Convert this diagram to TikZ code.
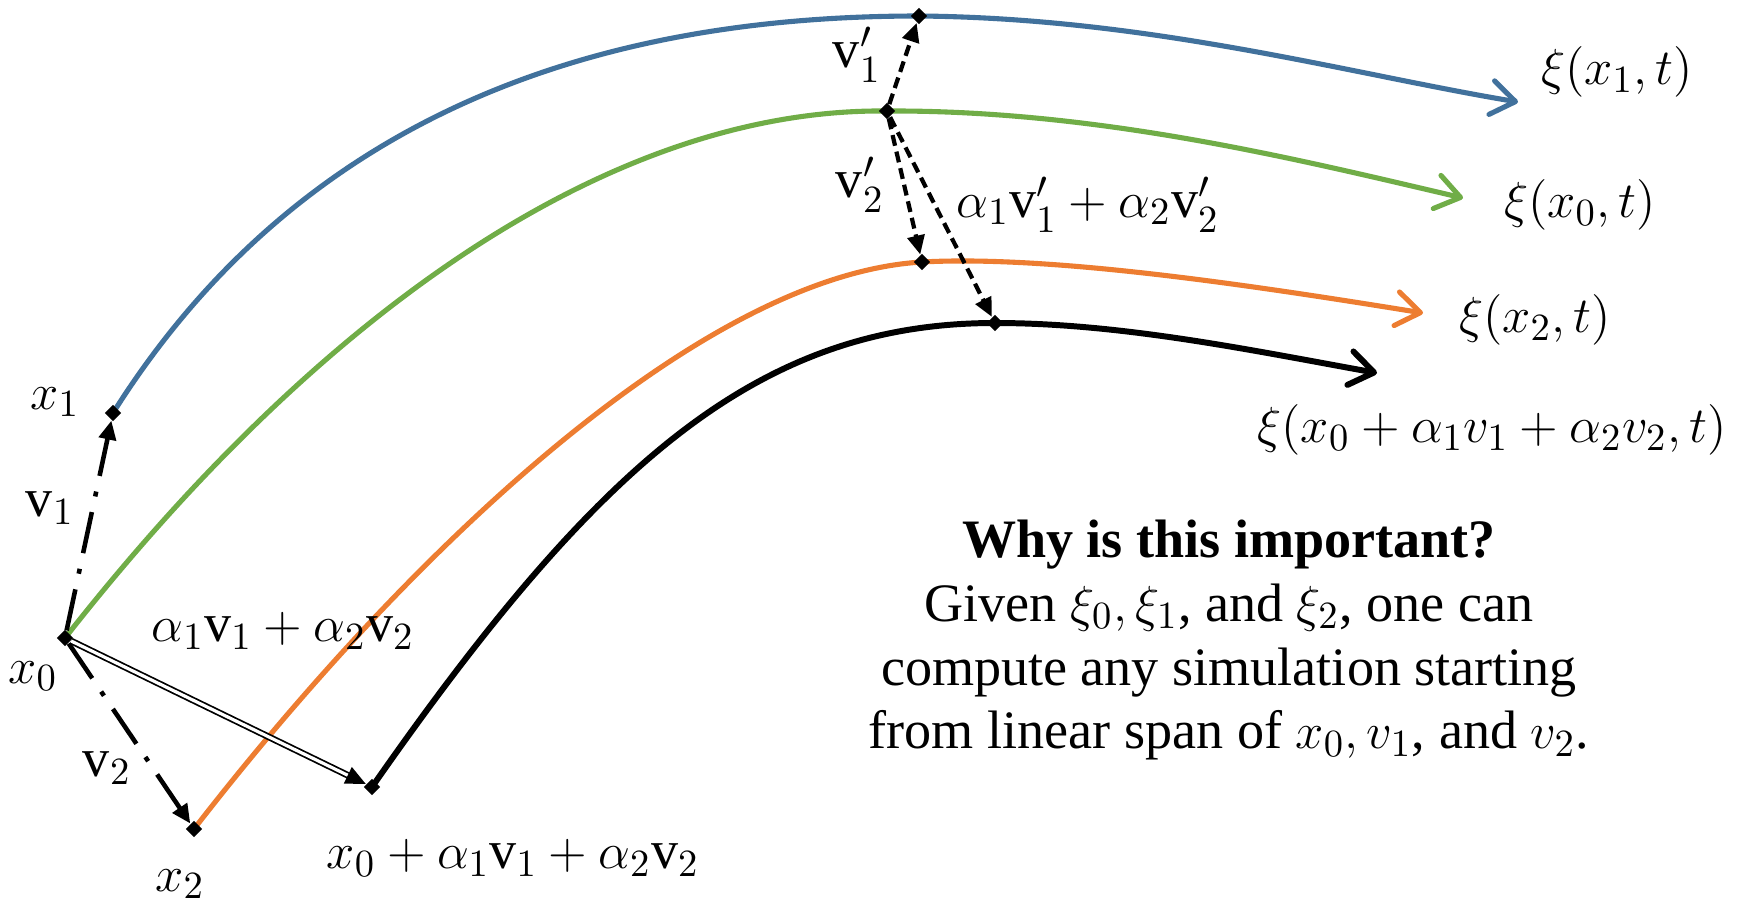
\documentclass[tikz,border=0pt]{standalone}
\usepackage{amsmath,amssymb}
\usepackage{fontspec}
\setmainfont{Liberation Serif}
\usepackage{tikz}
\usetikzlibrary{arrows.meta,positioning,shapes.geometric}
\definecolor{trajblue}{RGB}{65,113,156}
\definecolor{trajgreen}{RGB}{112,173,71}
\definecolor{trajorange}{RGB}{237,125,49}
\newcommand{\vv}[1]{\mathrm{v}_{#1}}
\newcommand{\vp}[1]{\mathrm{v}'_{#1}}
\tikzset{
  epath/.style={line width=1.45pt,line cap=round,
    -{Straight Barb[length=2.4mm,width=3.4mm,round]}},
  epoint/.style={diamond,fill=black,inner sep=0pt,minimum size=1.7mm},
  evec/.style={-{Triangle[length=1.9mm,width=1.7mm]},line width=1.3pt,
    dash pattern=on 4.2mm off 1.6mm on 0.5mm off 1.6mm},
  edash/.style={-{Triangle[length=1.9mm,width=1.7mm]},line width=1.2pt,
    dash pattern=on 1.1mm off 0.6mm},
  edbl/.style={-{Triangle[length=2mm,width=1.8mm]},double,
    double distance=0.9pt,line width=0.5pt},
  elbl/.style={inner sep=1pt,font=\fontsize{15.4}{18.2}\selectfont},
}

\begin{document}
\begin{tikzpicture}[x=0.1mm,y=-0.1mm]
\useasboundingbox (0,0) rectangle (1741,911);
% points on the trajectories
\coordinate (p0) at (65,638);
\coordinate (p1) at (113,413);
\coordinate (p2) at (194,829);
\coordinate (ps) at (372,787);
\coordinate (q1) at (919,16);
\coordinate (q0) at (887,111);
\coordinate (q2) at (922,262);
\coordinate (qs) at (995,323);
\coordinate (e1) at (1518,102);
\coordinate (e0) at (1463,198);
\coordinate (e2) at (1423,313);
\coordinate (es) at (1377,373);
% trajectories
\draw[epath,trajblue] (p1) .. controls (310,100) and (620,16) .. (q1)
  .. controls (1150,18) and (1350,74) .. (e1);
\draw[epath,trajgreen] (p0) .. controls (330,300) and (620,108) .. (q0)
  .. controls (1100,110) and (1300,160) .. (e0);
\draw[epath,trajorange] (p2) .. controls (408,553) and (700,275) .. (q2)
  .. controls (1050,255) and (1250,285) .. (e2);
\draw[epath,black,line width=1.7pt] (ps) .. controls (600,460) and (760,323) .. (qs)
  .. controls (1120,323) and (1250,350) .. (es);
% markers
\node[epoint] (x0) at (p0) {};
\node[epoint] (x1) at (p1) {};
\node[epoint] (x2) at (p2) {};
\node[epoint] (xs) at (ps) {};
\node[epoint] (y0) at (q0) {};
\node[epoint] (y1) at (q1) {};
\node[epoint] (y2) at (q2) {};
\node[epoint] (ys) at (qs) {};
% perturbations
\draw[evec] (x0) -- (x1);
\draw[evec] (x0) -- (x2);
\draw[edbl] (x0) -- (xs);
\draw[edash] (y0) -- (y1);
\draw[edash] (y0) -- (y2);
\draw[edash] (y0) -- (ys);
% labels
\node[elbl] (lx1) at (55,402) {$x_1$};
\node[elbl] (lv1) at (50,508) {$\vv1$};
\node[elbl] (lx0) at (33,676) {$x_0$};
\node[elbl] (lv2) at (107,768) {$\vv2$};
\node[elbl] (lx2) at (180,884) {$x_2$};
\node[elbl] (lcomb) at (283,631) {$\alpha_1\vv1+\alpha_2\vv2$};
\node[elbl] (lsum) at (513,858) {$x_0+\alpha_1\vv1+\alpha_2\vv2$};
\node[elbl] (lw1) at (857,55) {$\vp1$};
\node[elbl] (lw2) at (860,185) {$\vp2$};
\node[elbl] (lwc) at (1088,205) {$\alpha_1\vp1+\alpha_2\vp2$};
\node[elbl] (lt1) at (1617,72) {$\xi(x_1,t)$};
\node[elbl] (lt0) at (1580,205) {$\xi(x_0,t)$};
\node[elbl] (lt2) at (1535,320) {$\xi(x_2,t)$};
\node[elbl] (lts) at (1492,430) {$\xi(x_0+\alpha_1v_1+\alpha_2v_2,t)$};
\node[elbl,align=center] (why) at (1229,640) {\textbf{Why is this important?}\\
  Given $\xi_0,\xi_1$, and $\xi_2$, one can\\
  compute any simulation starting\\
  from linear span of $x_0,v_1$, and $v_2$.};
\end{tikzpicture}
\end{document}
